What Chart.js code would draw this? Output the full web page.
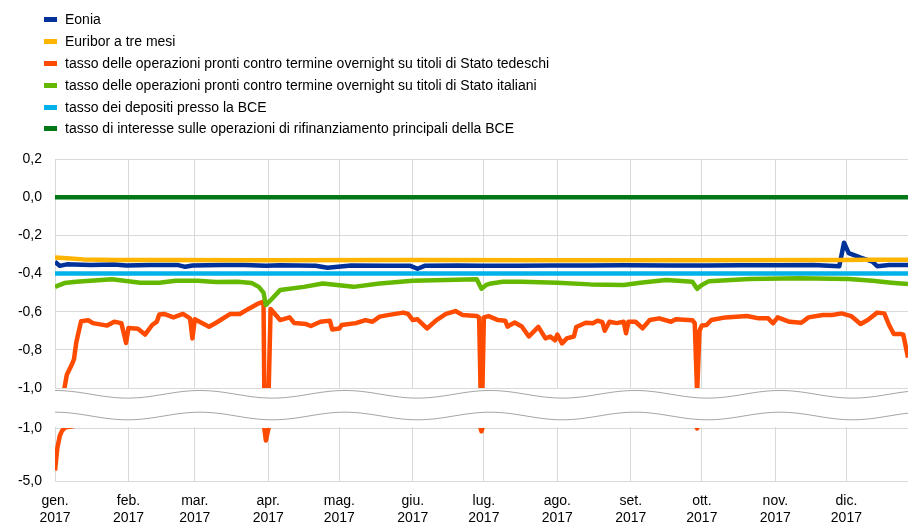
<!DOCTYPE html>
<html lang="it">
<head>
<meta charset="UTF-8">
<title>Tassi del mercato monetario 2017</title>
<script src="https://cdn.jsdelivr.net/npm/chart.js"></script>
<style>
  body { margin: 0; background: #fff; font-family: "Liberation Sans", Arial, sans-serif; }
  #wrap { position: relative; width: 908px; height: 524px; }
  #legend { position: absolute; left: 44px; top: 8px; font-size: 14px; color: #000; z-index: 2; }
  .item { position: relative; height: 21.9px; line-height: 22px; padding-left: 21px; white-space: nowrap; }
  .item .box { position: absolute; left: 0; top: 9px; width: 13px; height: 5px; }
  #chart { position: absolute; left: 0; top: 0; }
</style>
</head>
<body>
<div id="wrap">
  <div id="legend"></div>
  <canvas id="chart" width="908" height="524"></canvas>
</div>
<script>
// x = day of year 2017 (0 = 1 Jan)
const monthStarts = [0, 31, 59, 90, 120, 151, 181, 212, 243, 273, 304, 334];
const monthLabels = ['gen.', 'feb.', 'mar.', 'apr.', 'mag.', 'giu.', 'lug.', 'ago.', 'set.', 'ott.', 'nov.', 'dic.'];
const yearLabel = '2017';

const eoniaDays = [0,2,5,15,25,30,40,52,55,58,70,80,89,95,110,115,125,140,150,153,156,170,180,195,210,225,240,260,275,290,305,320,331,333,335,340,345,347,352,360];
const eoniaRates = [-0.338,-0.36,-0.352,-0.355,-0.353,-0.358,-0.355,-0.356,-0.365,-0.358,-0.356,-0.355,-0.36,-0.357,-0.359,-0.37,-0.358,-0.359,-0.36,-0.375,-0.36,-0.358,-0.36,-0.359,-0.358,-0.358,-0.357,-0.358,-0.358,-0.357,-0.357,-0.355,-0.362,-0.239,-0.293,-0.317,-0.338,-0.362,-0.356,-0.355];

const euriborDays = [0,5,12,25,45,90,150,210,270,330,345,360];
const euriborRates = [-0.316,-0.32,-0.326,-0.329,-0.329,-0.33,-0.329,-0.33,-0.331,-0.329,-0.328,-0.328];

const deDays = [0,1,2,3,4,5,7,8,9,11,14,16,22,25,28,30,31,35,38,41,43,44,46,50,54,57,58,59,65,68,74,78,82,86,88,89,90,91,95,99,101,106,108,112,116,117,120,121,127,131,134,137,141,147,149,151,153,157,161,165,169,172,178,179,180,181,183,187,190,191,194,197,200,204,207,209,211,212,214,216,219,220,224,227,229,231,232,234,237,240,241,242,245,248,251,255,260,262,269,270,271,272,273,275,277,283,292,297,301,303,305,310,315,318,324,328,332,336,340,343,347,350,352,354,357,358,360,361];
const deRates = [-4.2,-2.5,-1.6,-1.2,-1.0,-0.93,-0.88,-0.85,-0.76,-0.65,-0.645,-0.66,-0.673,-0.653,-0.66,-0.764,-0.686,-0.69,-0.72,-0.67,-0.652,-0.615,-0.612,-0.63,-0.612,-0.635,-0.74,-0.64,-0.679,-0.658,-0.612,-0.612,-0.583,-0.556,-0.548,-1.95,-1.1,-0.586,-0.644,-0.63,-0.66,-0.665,-0.675,-0.653,-0.647,-0.693,-0.688,-0.67,-0.66,-0.644,-0.653,-0.626,-0.617,-0.605,-0.612,-0.644,-0.64,-0.688,-0.644,-0.612,-0.597,-0.617,-0.623,-0.63,-1.25,-0.63,-0.623,-0.644,-0.647,-0.678,-0.657,-0.678,-0.73,-0.68,-0.74,-0.73,-0.75,-0.72,-0.766,-0.74,-0.73,-0.68,-0.658,-0.661,-0.647,-0.655,-0.70,-0.653,-0.66,-0.653,-0.713,-0.653,-0.653,-0.687,-0.644,-0.635,-0.653,-0.64,-0.645,-0.66,-1.03,-0.7,-0.672,-0.67,-0.644,-0.63,-0.623,-0.635,-0.635,-0.661,-0.63,-0.653,-0.658,-0.63,-0.617,-0.617,-0.609,-0.623,-0.665,-0.644,-0.605,-0.609,-0.67,-0.717,-0.717,-0.72,-0.84,-1.0];

const itDays = [0,1,4,9,24,36,44,51,60,68,77,83,86,88,89,91,95,105,113,126,137,151,165,178,180,182,184,189,197,212,226,240,247,258,269,271,273,276,293,314,335,345,353,360];
const itRates = [-0.47,-0.465,-0.45,-0.443,-0.43,-0.448,-0.448,-0.438,-0.438,-0.445,-0.443,-0.45,-0.47,-0.5,-0.565,-0.54,-0.487,-0.47,-0.452,-0.47,-0.452,-0.438,-0.434,-0.43,-0.48,-0.46,-0.452,-0.443,-0.443,-0.448,-0.457,-0.46,-0.448,-0.434,-0.443,-0.48,-0.46,-0.44,-0.429,-0.425,-0.429,-0.438,-0.448,-0.455];

const depoDays = [0, 360];
const depoRates = [-0.4, -0.4];
const mroDays = [0, 360];
const mroRates = [0, 0];

const seriesNames = [
  'Eonia',
  'Euribor a tre mesi',
  'tasso delle operazioni pronti contro termine overnight su titoli di Stato tedeschi',
  'tasso delle operazioni pronti contro termine overnight su titoli di Stato italiani',
  'tasso dei depositi presso la BCE',
  'tasso di interesse sulle operazioni di rifinanziamento principali della BCE'
];
const seriesColors = ['#003299', '#FFB400', '#FF4B00', '#65B800', '#00B1EA', '#007816'];

// HTML legend, one item per row
const legend = document.getElementById('legend');
seriesNames.forEach((name, i) => {
  const row = document.createElement('div');
  row.className = 'item';
  row.innerHTML = '<span class="box" style="background:' + seriesColors[i] + '"></span>' + name;
  legend.appendChild(row);
});

function pts(xs, ys) {
  return xs.map((x, i) => ({ x: x, y: ys[i] }));
}

function line(i, data, axis, order) {
  return {
    label: seriesNames[i],
    data: data,
    yAxisID: axis,
    borderColor: seriesColors[i],
    backgroundColor: seriesColors[i],
    borderWidth: 4.5,
    pointRadius: 0,
    tension: 0,
    fill: false,
    borderJoinStyle: 'round',
    order: order
  };
}

const fmt = v => (Math.abs(v) < 1e-9 ? 0 : Number(v)).toFixed(1).replace('.', ',');
const tickFont = { family: '"Liberation Sans", Arial, sans-serif', size: 14 };

// white gap with wavy lines, and each dataset clipped to its own y axis
const brokenAxis = {
  id: 'brokenAxis',
  beforeDatasetsDraw(chart) {
    const { ctx, chartArea, scales } = chart;
    const top = scales.yTop.bottom;
    const bot = scales.yLow.top;
    ctx.save();
    ctx.fillStyle = '#fff';
    ctx.fillRect(chartArea.left - 1, top + 1, chartArea.right - chartArea.left + 2, bot - top - 2);
    ctx.strokeStyle = '#a6a6a6';
    ctx.lineWidth = 1;
    [6.3, 28].forEach(off => {
      ctx.beginPath();
      for (let x = chartArea.left; x <= chartArea.right; x++) {
        const y = top + off - 3.8 * Math.cos(2 * Math.PI * (x - chartArea.left) / 145);
        if (x === chartArea.left) ctx.moveTo(x, y); else ctx.lineTo(x, y);
      }
      ctx.stroke();
    });
    ctx.restore();
  },
  beforeDatasetDraw(chart, args) {
    const { ctx, chartArea } = chart;
    const ys = args.meta.yScale;
    ctx.save();
    ctx.beginPath();
    ctx.rect(chartArea.left, ys.top, chartArea.right - chartArea.left, ys.bottom - ys.top);
    ctx.clip();
  },
  afterDatasetDraw(chart) {
    chart.ctx.restore();
  }
};

new Chart(document.getElementById('chart').getContext('2d'), {
  type: 'line',
  data: {
    datasets: [
      line(0, pts(eoniaDays, eoniaRates), 'yTop', 6),
      line(1, pts(euriborDays, euriborRates), 'yTop', 5),
      line(2, pts(deDays, deRates), 'yTop', 4),
      line(2, pts(deDays, deRates), 'yLow', 4),
      line(3, pts(itDays, itRates), 'yTop', 3),
      line(4, pts(depoDays, depoRates), 'yTop', 2),
      line(5, pts(mroDays, mroRates), 'yTop', 1)
    ]
  },
  options: {
    responsive: false,
    animation: false,
    layout: { padding: { top: 159, right: 0, bottom: 0, left: 0 } },
    plugins: { legend: { display: false }, tooltip: { enabled: false } },
    scales: {
      x: {
        type: 'linear',
        min: 0,
        max: 360,
        afterBuildTicks: s => { s.ticks = monthStarts.map(v => ({ value: v })); },
        afterFit: s => { s.height = 43; },
        grid: { color: '#d9d9d9', drawTicks: false },
        border: { color: '#d9d9d9' },
        ticks: {
          autoSkip: false,
          maxRotation: 0,
          padding: 12,
          color: '#000',
          font: Object.assign({ lineHeight: 1.2 }, tickFont),
          callback: v => [monthLabels[monthStarts.indexOf(v)], yearLabel]
        }
      },
      // stacked left axes: the last one declared ends up on top
      yLow: {
        type: 'linear',
        position: 'left',
        stack: 'rates',
        stackWeight: 53,
        min: -5,
        max: -1,
        afterBuildTicks: s => { s.ticks = [{ value: -5 }, { value: -1 }]; },
        afterFit: s => { s.width = 55; },
        grid: { color: '#d9d9d9', drawTicks: false },
        border: { display: false },
        ticks: { padding: 13, color: '#000', font: tickFont, callback: fmt }
      },
      yGap: {
        type: 'linear',
        position: 'left',
        stack: 'rates',
        stackWeight: 40,
        min: 0,
        max: 1,
        afterFit: s => { s.width = 55; },
        grid: { display: false },
        border: { display: false },
        ticks: { display: false }
      },
      yTop: {
        type: 'linear',
        position: 'left',
        stack: 'rates',
        stackWeight: 229,
        min: -1.0,
        max: 0.2,
        afterFit: s => { s.width = 55; },
        grid: { color: '#d9d9d9', drawTicks: false },
        border: { display: false },
        ticks: { stepSize: 0.2, padding: 13, color: '#000', font: tickFont, callback: fmt }
      }
    }
  },
  plugins: [brokenAxis]
});
</script>
</body>
</html>
